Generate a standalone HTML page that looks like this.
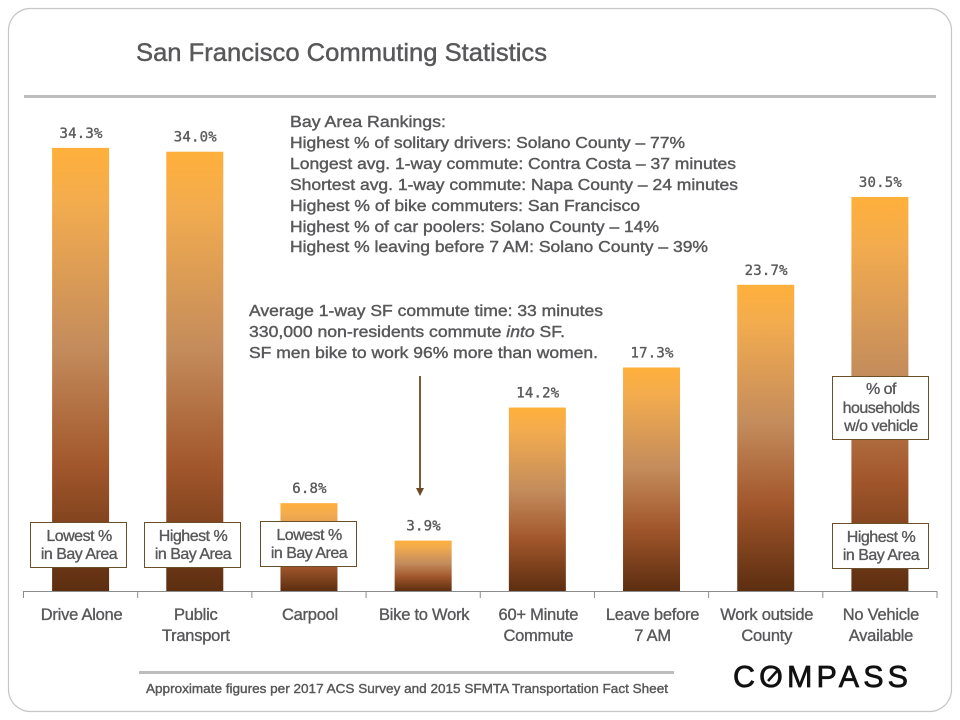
<!DOCTYPE html>
<html lang="en">
<head>
<meta charset="utf-8">
<title>San Francisco Commuting Statistics</title>
<style>
html,body{margin:0;padding:0;background:#fff;width:960px;height:720px;overflow:hidden}
svg{display:block}
text{font-family:"Liberation Sans",sans-serif;fill:#58585a}
.note{font-size:15.5px;stroke:#58585a;stroke-width:.4px}
.cat{font-size:16.5px;text-anchor:middle;letter-spacing:-.25px;stroke:#58585a;stroke-width:.35px}
.val{font-family:"DejaVu Sans Mono","Liberation Mono",monospace;font-size:14px;text-anchor:middle;fill:#5a5a5a;stroke:#5a5a5a;stroke-width:.35px;letter-spacing:.2px}
.box{fill:#fff;stroke:#6b4f2a;stroke-width:1}
.boxt{font-size:16px;text-anchor:middle;letter-spacing:-.5px;stroke:#58585a;stroke-width:.35px}
</style>
</head>
<body>
<svg id="chart" width="960" height="720" viewBox="0 0 960 720" xmlns="http://www.w3.org/2000/svg">
<defs>
<linearGradient id="barGrad" x1="0" y1="0" x2="0" y2="1">
<stop offset="0" stop-color="#ffb03b"/>
<stop offset=".12" stop-color="#f3ac4e"/>
<stop offset=".45" stop-color="#c48c5c"/>
<stop offset=".72" stop-color="#a1562b"/>
<stop offset="1" stop-color="#5c2e10"/>
</linearGradient>
</defs>
<rect x="8.5" y="8.5" width="943" height="703" rx="22" ry="22" fill="#fff" stroke="#c6c6c6" stroke-width="1.2"/>
<text x="136" y="61" font-size="25" textLength="411" lengthAdjust="spacingAndGlyphs" style="stroke:#58585a;stroke-width:.45px">San Francisco Commuting Statistics</text>
<rect x="24" y="95" width="912" height="3" fill="#bdbdbd"/>

<g id="bars"></g>
<g id="axis"></g>

<g>
<text class="note" x="290" y="127" textLength="156" lengthAdjust="spacingAndGlyphs">Bay Area Rankings:</text>
<text class="note" x="290" y="148" textLength="395" lengthAdjust="spacingAndGlyphs">Highest % of solitary drivers: Solano County – 77%</text>
<text class="note" x="290" y="169" textLength="446" lengthAdjust="spacingAndGlyphs">Longest avg. 1-way commute: Contra Costa – 37 minutes</text>
<text class="note" x="290" y="190" textLength="448" lengthAdjust="spacingAndGlyphs">Shortest avg. 1-way commute: Napa County – 24 minutes</text>
<text class="note" x="290" y="211" textLength="350" lengthAdjust="spacingAndGlyphs">Highest % of bike commuters: San Francisco</text>
<text class="note" x="290" y="232" textLength="369" lengthAdjust="spacingAndGlyphs">Highest % of car poolers: Solano County – 14%</text>
<text class="note" x="290" y="252" textLength="418" lengthAdjust="spacingAndGlyphs">Highest % leaving before 7 AM: Solano County – 39%</text>
</g>

<g>
<text class="note" x="249" y="316" textLength="354" lengthAdjust="spacingAndGlyphs">Average 1-way SF commute time: 33 minutes</text>
<text class="note" x="249" y="337" textLength="316" lengthAdjust="spacingAndGlyphs">330,000 non-residents commute <tspan font-style="italic">into</tspan> SF.</text>
<text class="note" x="249" y="358" textLength="349" lengthAdjust="spacingAndGlyphs">SF men bike to work 96% more than women.</text>
</g>

<g>
<line x1="420" y1="376" x2="420" y2="490" stroke="#6b4a22" stroke-width="1.8"/>
<polygon points="416,488 424,488 420,496" fill="#6b4a22"/>
</g>

<g>
<rect class="box" x="30.5" y="522.5" width="96" height="45"/>
<text class="boxt" x="79" y="541">Lowest %</text><text class="boxt" x="79" y="559">in Bay Area</text>
</g>
<g>
<rect class="box" x="144.5" y="522.5" width="96" height="45"/>
<text class="boxt" x="193" y="541">Highest %</text><text class="boxt" x="193" y="559">in Bay Area</text>
</g>
<g>
<rect class="box" x="260.5" y="521.5" width="96" height="45"/>
<text class="boxt" x="309" y="540">Lowest %</text><text class="boxt" x="309" y="558">in Bay Area</text>
</g>
<g>
<rect class="box" x="832.5" y="523.5" width="96" height="45"/>
<text class="boxt" x="881" y="542">Highest %</text><text class="boxt" x="881" y="560">in Bay Area</text>
</g>
<g>
<rect class="box" x="832.5" y="376.5" width="96" height="63"/>
<text class="boxt" x="881" y="394">% of</text><text class="boxt" x="881" y="413">households</text><text class="boxt" x="881" y="431">w/o vehicle</text>
</g>

<rect x="139" y="671" width="535" height="3" fill="#bdbdbd"/>
<text x="146" y="693" font-size="13" textLength="522" lengthAdjust="spacingAndGlyphs" style="stroke:#58585a;stroke-width:.4px">Approximate figures per 2017 ACS Survey and 2015 SFMTA Transportation Fact Sheet</text>

<g>
<text x="733" y="687" font-size="30.5" textLength="175" style="fill:#111;stroke:#111;stroke-width:.7px">COMPASS</text>
<line x1="768" y1="681" x2="777" y2="671" stroke="#111" stroke-width="2.6"/>
</g>
</svg>
<script>
const categories = [["Drive Alone"],["Public","Transport"],["Carpool"],["Bike to Work"],["60+ Minute","Commute"],["Leave before","7 AM"],["Work outside","County"],["No Vehicle","Available"]];
const shareValues = [34.3,34.0,6.8,3.9,14.2,17.3,23.7,30.5];

const NS = 'http://www.w3.org/2000/svg';
const plotLeft = 23.5, plotRight = 937, baseY = 591, pxPerPct = 12.92, barWidth = 57;
const bandWidth = (plotRight - plotLeft) / categories.length;
function xBand(i){ return plotLeft + i * bandWidth; }
function xCenter(i){ return xBand(i) + bandWidth / 2; }
function yScale(v){ return baseY - v * pxPerPct; }
function make(tag, attrs, parent){
  const el = document.createElementNS(NS, tag);
  for (const k in attrs) el.setAttribute(k, attrs[k]);
  parent.appendChild(el);
  return el;
}
const barsG = document.getElementById('bars');
const axisG = document.getElementById('axis');

shareValues.forEach(function(v, i){
  const bar = make('rect', {x: xCenter(i) - barWidth / 2, y: yScale(v), width: barWidth, height: baseY - yScale(v), fill: 'url(#barGrad)'}, barsG);
  
  
  const label = make('text', {x: xCenter(i) + .5, y: yScale(v) - 10, class: 'val'}, barsG);
  label.textContent = v.toFixed(1) + '%';
  
  
});

const axisLine = make('line', {x1: plotLeft, x2: plotRight, y1: baseY + .5, y2: baseY + .5, stroke: '#8c8c8c', 'stroke-width': 1}, axisG);


for (let i = 0; i <= categories.length; i++) {
  const tick = make('line', {x1: xBand(i), x2: xBand(i), y1: baseY, y2: baseY + 7, stroke: '#8c8c8c', 'stroke-width': 1}, axisG);
  
  
}
categories.forEach(function(lines, i){
  lines.forEach(function(line, j){
    const t = make('text', {x: xCenter(i) + 1, y: 620 + j * 21, class: 'cat'}, axisG);
    t.textContent = line;
    
    
  });
});
</script>
</body>
</html>
